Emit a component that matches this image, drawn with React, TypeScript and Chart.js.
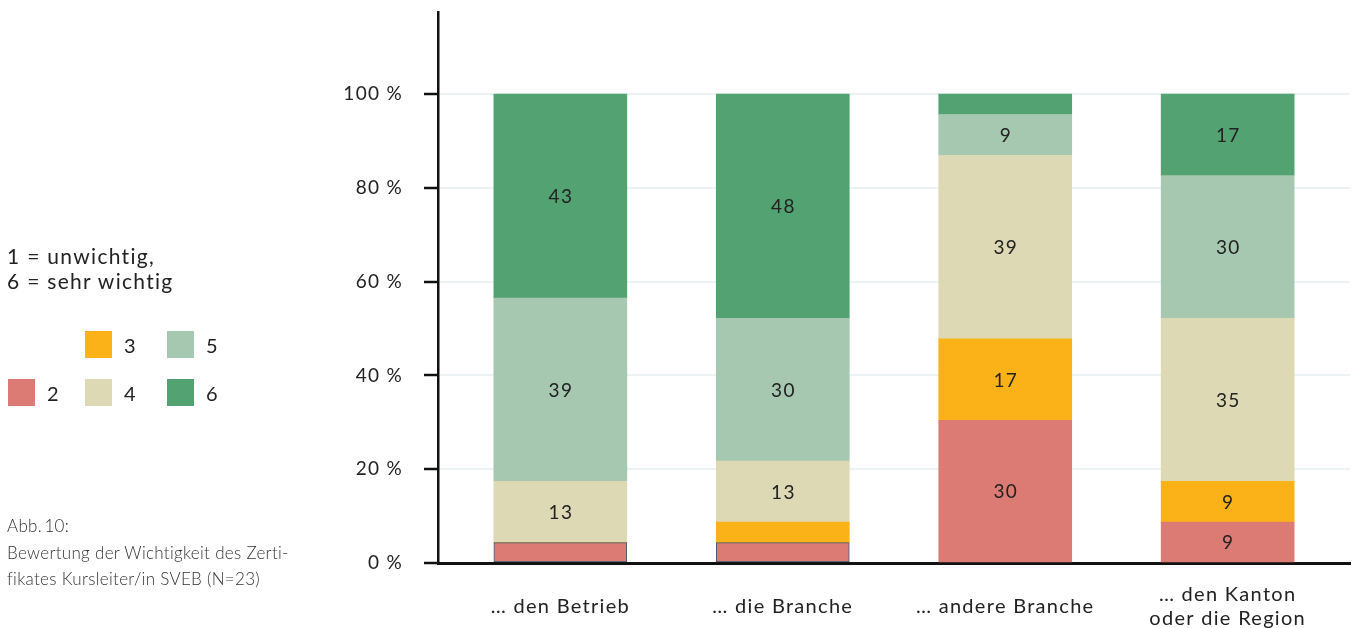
import React, { useEffect, useRef } from "react";
import { Chart, registerables } from "chart.js";

Chart.register(...registerables);

const categories: (string | string[])[] = [
  "… den Betrieb",
  "… die Branche",
  "… andere Branche",
  ["… den Kanton", "oder die Region"],
];
const seriesLabels = ["2", "3", "4", "5", "6"];
const values2 = [4.35, 4.35, 30.43, 8.7];
const values3 = [0, 4.35, 17.39, 8.7];
const values4 = [13.04, 13.04, 39.13, 34.78];
const values5 = [39.13, 30.43, 8.7, 30.43];
const values6 = [43.48, 47.83, 4.35, 17.39];
const seriesValues = [values2, values3, values4, values5, values6];
const seriesColors = ["#db7b73", "#fbb218", "#ddd9b4", "#a6c8b0", "#52a272"];
const yTicks = [0, 20, 40, 60, 80, 100];

const FONT = "Lato, 'Noto Sans', sans-serif";

const spacing = {
  id: "spacing",
  beforeUpdate(chart: any) {
    chart.ctx.letterSpacing = "1.3px";
  },
  beforeDraw(chart: any) {
    chart.ctx.letterSpacing = "1.3px";
  },
};

const valueLabels = {
  id: "valueLabels",
  afterDatasetsDraw(chart: any) {
    const ctx = chart.ctx;
    ctx.save();
    ctx.letterSpacing = "1.3px";
    ctx.font = `19px ${FONT}`;
    ctx.fillStyle = "#222";
    ctx.textAlign = "center";
    ctx.textBaseline = "middle";
    chart.data.datasets.forEach((ds: any, di: number) => {
      const meta = chart.getDatasetMeta(di);
      meta.data.forEach((el: any, i: number) => {
        const v = ds.data[i].y;
        if (v < 6) return;
        ctx.fillText(String(Math.round(v)), el.x + 0.6, (el.y + el.base) / 2 + 1);
      });
    });
    ctx.restore();
  },
};

export default function App() {
  const ref = useRef<HTMLCanvasElement>(null);
  useEffect(() => {
    if (!ref.current) return;
    const chart = new Chart(ref.current, {
      type: "bar",
      data: {
        datasets: seriesLabels.map((lab, si) => ({
          label: lab,
          data: seriesValues[si].map((v, i) => ({ x: i, y: v })),
          backgroundColor: seriesColors[si],
          borderColor: si === 0 ? ["#3d5a73", "#3d5a73", "rgba(0,0,0,0)", "rgba(0,0,0,0)"] : "rgba(0,0,0,0)",
          borderWidth: si === 0 ? [1, 1, 0, 0] : 0,
          borderSkipped: false,
          barThickness: 133,
        })),
      },
      options: {
        responsive: false,
        animation: false,
        devicePixelRatio: 1,
        layout: { padding: { left: 0, right: 2, top: 12, bottom: 0 } },
        plugins: { legend: { display: false }, tooltip: { enabled: false } },
        scales: {
          x: {
            type: "linear",
            offset: false,
            min: -0.55,
            max: 3.55,
            stacked: true,
            afterBuildTicks: (scale: any) => {
              scale.ticks = categories.map((_, i) => ({ value: i }));
            },
            afterFit: (scale: any) => {
              scale.height = 65;
              scale.paddingLeft = 0;
              scale.paddingRight = 0;
            },
            grid: { display: false, drawTicks: false, offset: false },
            border: { display: true, color: "#111", width: 3 },
            ticks: {
              autoSkip: false,
              maxRotation: 0,
              crossAlign: "center",
              padding: 32,
              color: "#222",
              font: { family: FONT, size: 20 },
              callback: (v: any) => categories[v as number] as any,
            },
          },
          y: {
            stacked: true,
            min: 0,
            max: 117.5,
            afterBuildTicks: (scale: any) => {
              scale.ticks = yTicks.map((v) => ({ value: v }));
            },
            afterFit: (scale: any) => {
              scale.width = 438;
              scale.paddingTop = 0;
              scale.paddingBottom = 0;
            },
            grid: {
              color: "#ebf3f4",
              lineWidth: 2,
              drawTicks: true,
              tickLength: 14,
              tickColor: "#111",
              tickWidth: 2.5,
            },
            border: { display: true, color: "#111", width: 2.5 },
            ticks: {
              padding: 21,
              color: "#222",
              font: { family: FONT, size: 19 },
              callback: (v: any) => `${v}\u00A0%`,
            },
          },
        },
      },
      plugins: [spacing, valueLabels],
    } as any);
    return () => chart.destroy();
  }, []);

  const legendPos = [
    { left: 8, top: 379 },
    { left: 85, top: 331 },
    { left: 85, top: 379 },
    { left: 167, top: 331 },
    { left: 167, top: 379 },
  ];

  return (
    <div
      style={{
        position: "fixed",
        left: 0,
        top: 0,
        width: 1352,
        height: 628,
        background: "#fff",
        fontFamily: FONT,
        color: "#222",
        overflow: "hidden",
      }}
    >
      <canvas ref={ref} width={1352} height={628} style={{ position: "absolute", left: 0, top: 0 }} />
      <div style={{ position: "absolute", left: 7, top: 243, fontSize: 21, lineHeight: "25px", letterSpacing: "1.3px" }}>
        1 = unwichtig,
        <br />6 = sehr wichtig
      </div>
      {seriesLabels.map((lab, i) => (
        <div key={lab} style={{ position: "absolute", left: legendPos[i].left, top: legendPos[i].top, display: "flex", alignItems: "center" }}>
          <div style={{ width: 27, height: 27, background: seriesColors[i] }} />
          <span style={{ marginLeft: 12, fontSize: 20, letterSpacing: "1px" }}>{lab}</span>
        </div>
      ))}
      <div style={{ position: "absolute", left: 7, top: 513, fontSize: 17, lineHeight: "26.5px", fontWeight: 300, color: "#333", letterSpacing: "0.3px" }}>
        Abb.&#8201;10:
        <br />
        Bewertung der Wichtigkeit des Zerti-
        <br />
        fikates Kursleiter/in SVEB (N=23)
      </div>
    </div>
  );
}
